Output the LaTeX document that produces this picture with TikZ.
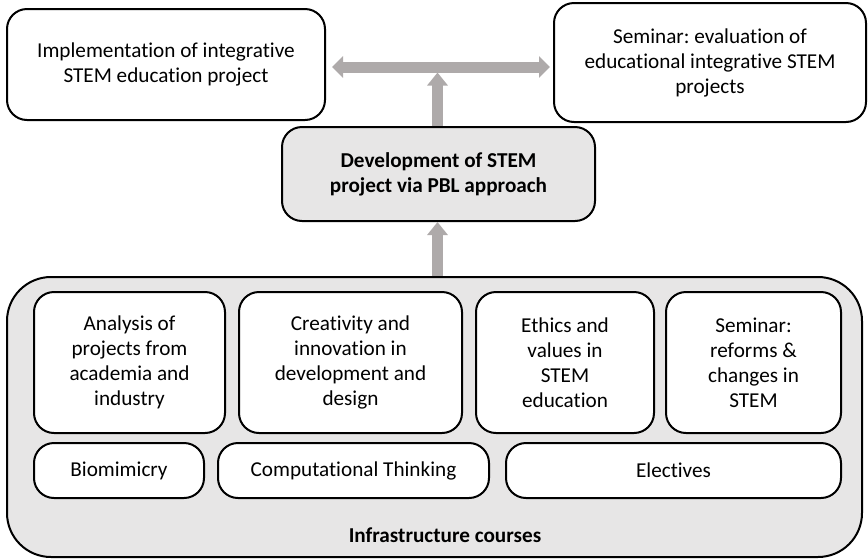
\documentclass[tikz,border=0pt]{standalone}
\usepackage{fontspec}
\setmainfont{Carlito}[RawFeature={-liga;-clig;-calt}]
\usetikzlibrary{arrows.meta}
\definecolor{boxgray}{HTML}{E7E6E6}
\definecolor{arrowgray}{HTML}{AEAAAA}
\frenchspacing
\tikzset{
	plainbox/.style={draw, line width=1pt, rounded corners=10pt, align=center,
		font=\fontsize{10.6}{12.5}\selectfont, inner sep=2pt},
	coursebox/.style={plainbox, fill=white},
	fatarrow/.style={draw=arrowgray, line width=5.5pt,
		-{Triangle[width=10.5pt,length=6pt]}},
	twoarrow/.style={fatarrow, {Triangle[width=10.5pt,length=5.5pt]}-{Triangle[width=10.5pt,length=5.5pt]}}
}

\begin{document}
\begin{tikzpicture}[x=0.5pt, y=-0.5pt]
			%%%%% START %%%%%
			\useasboundingbox (0, 0) rectangle (868, 558);
			
			% infrastructure frame
			\node[plainbox, fill=boxgray, rounded corners=22pt, minimum width=427.5pt, minimum height=140pt] (infra) at (434.5, 417) {};
			\node[font=\fontsize{10.6}{12.5}\selectfont\bfseries] (infralabel) at (445, 535) {Infrastructure courses};
			
			% first row of courses
			\node[coursebox, minimum width=95.5pt, minimum height=70.5pt] (analysis) at (129.5, 362.5) {Analysis of\\projects from\\academia and\\industry};
			\node[coursebox, minimum width=111.5pt, minimum height=70.5pt] (creativity) at (350.5, 362.5) {Creativity and\\innovation in\\development and\\design};
			\node[coursebox, minimum width=89pt, minimum height=70.5pt] (ethics) at (565, 362.5) {Ethics and\\values in\\STEM\\education};
			\node[coursebox, minimum width=87.5pt, minimum height=70.5pt] (reforms) at (753.5, 362.5) {Seminar:\\reforms \&\\changes in\\STEM};
			
			% second row of courses
			\node[coursebox, minimum width=85pt, minimum height=27.5pt] (biomimicry) at (119, 470.5) {Biomimicry};
			\node[coursebox, minimum width=135.5pt, minimum height=27.5pt] (computational) at (353.5, 470.5) {Computational Thinking};
			\node[coursebox, minimum width=167.5pt, minimum height=27.5pt] (electives) at (673.5, 470.5) {Electives};
			
			% development and the two outcomes
			\node[plainbox, fill=boxgray, font=\fontsize{10.6}{12.5}\selectfont\bfseries, minimum width=156.5pt, minimum height=47pt] (develop) at (438.5, 174) {Development of STEM\\project via PBL approach};
			\node[plainbox, minimum width=159pt, minimum height=55.5pt] (implement) at (166, 64.5) {Implementation of integrative\\STEM education project};
			\node[plainbox, minimum width=156pt, minimum height=59.5pt] (evaluation) at (710, 62.5) {Seminar: evaluation of\\educational integrative STEM\\projects};
			
			\coordinate (hub) at (437.5, 67);
			
			% arrows
			\draw[twoarrow] ([xshift=3pt]implement.east |- hub) -- ([xshift=-1.5pt]evaluation.west |- hub);
			\draw[fatarrow, -{Triangle[width=10pt,length=6.5pt]}] (develop.north -| hub) -- ([yshift=-2.75pt]hub);
			\draw[fatarrow, -{Triangle[width=10pt,length=6.5pt]}] (infra.north -| hub) -- (develop.south -| hub);
			
			%%%%% END %%%%%
\end{tikzpicture}
\end{document}
